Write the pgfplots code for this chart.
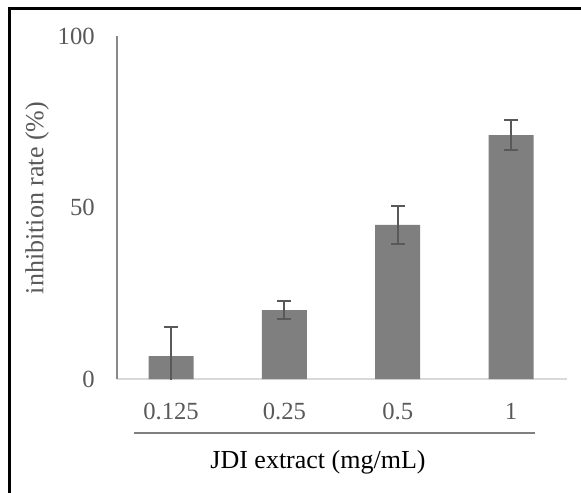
\documentclass[border=0pt]{standalone}
\usepackage{fontspec}
\setmainfont{Liberation Serif}
\usepackage{pgfplots}
\pgfplotsset{compat=1.18}
\definecolor{barfill}{HTML}{7F7F7F}
\definecolor{errgray}{HTML}{595959}
\definecolor{yaxisgray}{HTML}{898989}
\definecolor{xaxisgray}{HTML}{D9D9D9}
\definecolor{ticktext}{HTML}{595959}
\begin{document}
\begin{tikzpicture}
% 1px = 0.75pt, reference is 581x492
\useasboundingbox (0,0) rectangle (435.75pt,-369pt);
\draw[line width=2.25pt] (6.75pt,-380pt) -- (6.75pt,-6.75pt) -- (445pt,-6.75pt);
\begin{axis}[
    at={(87.75pt,-284.25pt)}, anchor=south west,
    scale only axis,
    width=337.5pt, height=257.25pt,
    ybar, bar width=33.75pt,
    xmin=-0.477, xmax=3.494,
    ymin=0, ymax=100,
    xtick={0,1,2,3},
    xticklabels={0.125,0.25,0.5,1},
    ytick={0,50,100},
    axis lines*=left,
    axis line style={-},
    x axis line style={draw=xaxisgray, line width=1.5pt},
    y axis line style={draw=yaxisgray, line width=1.2pt},
    major tick length=0pt,
    tick label style={font=\fontsize{18.5}{21}\selectfont, text=ticktext, inner sep=0pt},
    xticklabel style={anchor=center, yshift=-24pt},
    yticklabel style={anchor=east, xshift=-16.5pt},
    /pgf/number format/assume math mode=true,
]
\addplot[fill=barfill, draw=none,
    error bars/.cd, y dir=both, y explicit,
    error bar style={line width=1.5pt, color=errgray},
    error mark options={rotate=90, mark size=5.25pt, line width=1.5pt, color=errgray}]
    coordinates {
    (0,6.7) +- (0,8.5)
    (1,20.1) +- (0,2.7)
    (2,44.9) +- (0,5.6)
    (3,71.1) +- (0,4.4)
};
\end{axis}
\draw[draw=barfill, line width=1.5pt] (100.5pt,-324.75pt) -- (401.25pt,-324.75pt);
\node[rotate=90, text=ticktext, font=\fontsize{19.5}{22}\selectfont] at (27.75pt,-148.5pt) {inhibition rate (\%)};
\node[font=\fontsize{19.5}{22}\selectfont] at (238.5pt,-346.5pt) {JDI extract (mg/mL)};
\end{tikzpicture}
\end{document}
